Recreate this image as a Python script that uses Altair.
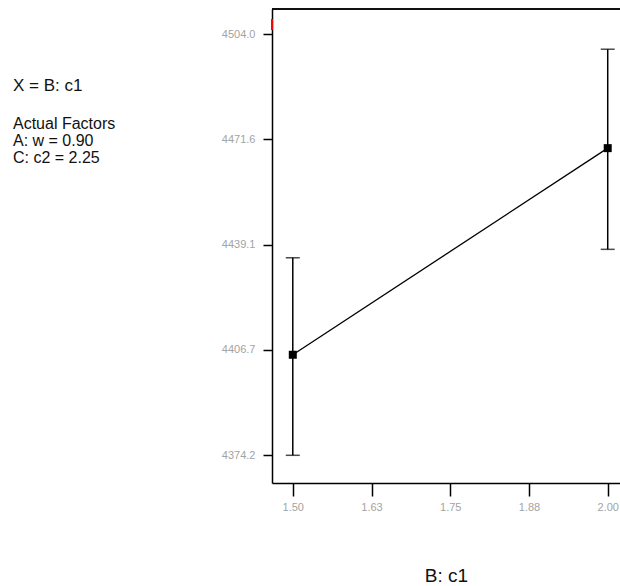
import altair as alt
import pandas as pd

# data
c1_levels = [1.50, 2.00]
response = [4405.2, 4468.9]
lower = [4374.2, 4437.7]
upper = [4435.1, 4499.4]

y_ticks = [4374.2, 4406.7, 4439.1, 4471.6, 4504.0]
x_ticks = [1.50, 1.625, 1.75, 1.875, 2.00]
x_domain = [1.467, 2.0195]
y_domain = [4365.66, 4511.8]

x_title = "B: c1"
header_line = "X = B: c1"
factor_lines = ["Actual Factors", "A: w = 0.90", "C: c2 = 2.25"]

W, H = 348, 474
FONT = "Liberation Sans"
LABEL_GRAY = "#a3a3a3"

df = pd.DataFrame({"x": c1_levels, "y": response, "lo": lower, "hi": upper})

xs = alt.Scale(domain=x_domain, nice=False, zero=False)
ys = alt.Scale(domain=y_domain, nice=False, zero=False)

x_axis = alt.Axis(values=x_ticks, format=".2f", labelColor=LABEL_GRAY, labelFontSize=11,
                  labelFont=FONT, tickSize=13, tickWidth=1.5, tickColor="black",
                  domainColor="black", domainWidth=1.5, grid=False, labelPadding=5,
                  titleFont=FONT, titleFontSize=19, titleFontWeight="normal",
                  titleColor="#111111", titleY=98.5, titleBaseline="alphabetic")
y_axis = alt.Axis(values=y_ticks, format=".1f", labelColor=LABEL_GRAY, labelFontSize=11,
                  labelFont=FONT, tickSize=9, tickWidth=1.5, tickColor="black",
                  domainColor="black", domainWidth=1.5, grid=False, labelPadding=8)


def X():
    return alt.X("x:Q", scale=xs, axis=x_axis, title=x_title)


def Y(field):
    return alt.Y(f"{field}:Q", scale=ys, axis=y_axis, title="")


base = alt.Chart(df)

bars = base.mark_rule(color="black", strokeWidth=1.5).encode(x=X(), y=Y("lo"), y2="hi:Q")
cap_lo = base.mark_tick(color="black", thickness=1.5, size=14, orient="horizontal").encode(x=X(), y=Y("lo"))
cap_hi = base.mark_tick(color="black", thickness=1.5, size=14, orient="horizontal").encode(x=X(), y=Y("hi"))
line = base.mark_line(color="black", strokeWidth=1.3).encode(x=X(), y=Y("y"))
pts = base.mark_square(color="black", size=64, opacity=1).encode(x=X(), y=Y("y"))

top_border = alt.Chart(df).mark_rule(color="black", strokeWidth=1.5).encode(
    x=alt.value(0), x2=alt.value(W), y=alt.value(0))
red_mark = alt.Chart(df).mark_rule(color="red", strokeWidth=2).encode(
    x=alt.value(0), y=alt.value(10), y2=alt.value(21))

head = alt.Chart(pd.DataFrame({"t": [header_line]})).mark_text(
    align="left", baseline="alphabetic", font=FONT, fontSize=17, color="#111111"
).encode(x=alt.value(-259), y=alt.value(81.5), text="t:N")

factors = alt.Chart(pd.DataFrame({"t": [factor_lines]})).mark_text(
    align="left", baseline="alphabetic", font=FONT, fontSize=16, color="#111111",
    lineHeight=16.7
).encode(x=alt.value(-259), y=alt.value(120.3), text="t")

chart = alt.layer(bars, cap_lo, cap_hi, line, pts, top_border, red_mark, head, factors).properties(
    width=W, height=H,
    autosize=alt.AutoSizeParams(type="none"),
    padding={"left": 272, "top": 9, "right": 0, "bottom": 103},
    background="white",
).configure_view(stroke=None)

chart.save("out.html", embed_options={"renderer": "svg", "actions": False})
